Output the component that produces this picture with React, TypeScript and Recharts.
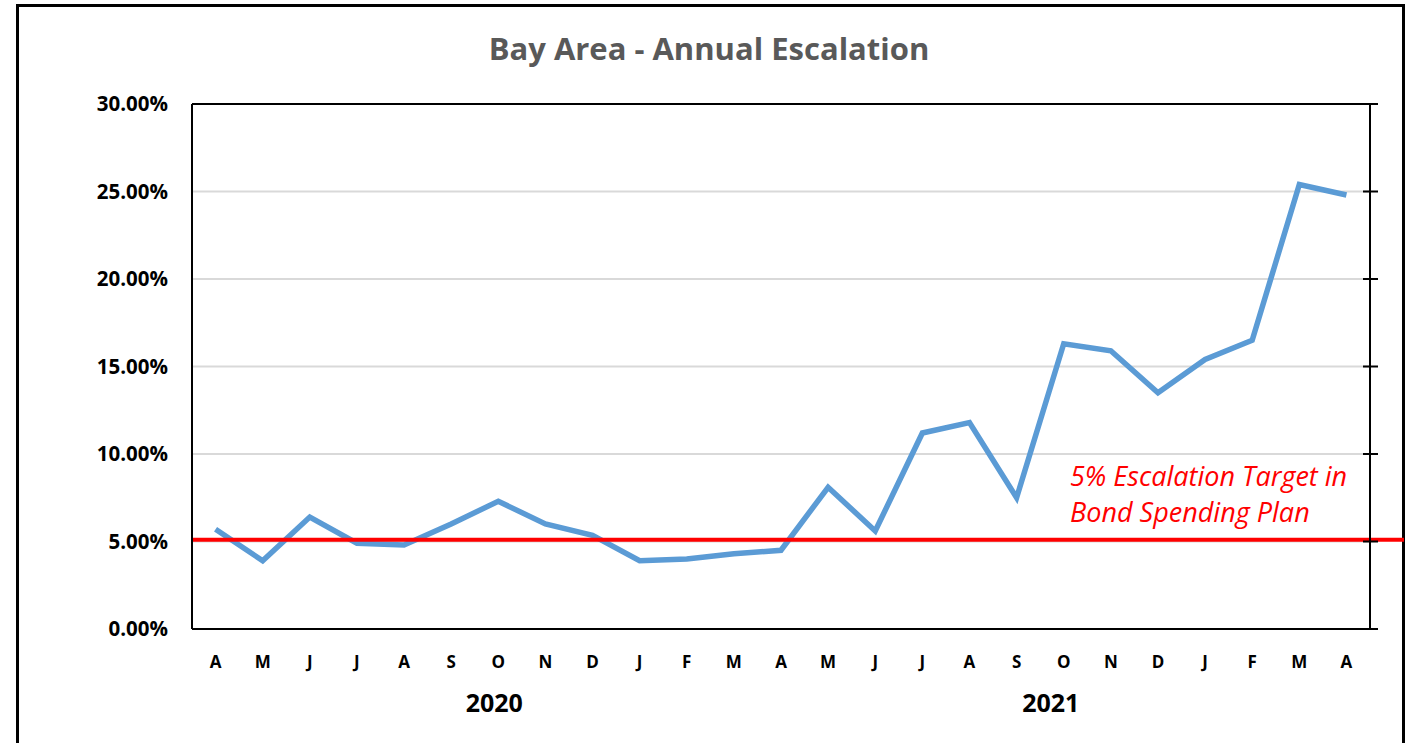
import { LineChart, Line, CartesianGrid, XAxis, YAxis, ReferenceLine } from "recharts";

const monthLetters = ["A", "M", "J", "J", "A", "S", "O", "N", "D", "J", "F", "M", "A", "M", "J", "J", "A", "S", "O", "N", "D", "J", "F", "M", "A"];
const escalation = [5.7, 3.9, 6.4, 4.9, 4.8, 6.0, 7.3, 6.0, 5.35, 3.9, 4.0, 4.3, 4.5, 8.1, 5.6, 11.2, 11.8, 7.5, 16.3, 15.9, 13.5, 15.4, 16.5, 25.4, 24.8];
const yearLabels = ["2020", "2021"];
const yTicks = [0, 5, 10, 15, 20, 25, 30];
const target = 5.1;
const targetText = ["5% Escalation Target in", "Bond Spending Plan"];

const data = monthLetters.map((m, i) => ({ key: `m${i}`, month: m, value: escalation[i] }));

const font = "'Open Sans', 'Noto Sans', sans-serif";
// which month tick each year label hangs under, and a small nudge
const yearAt: Record<number, { label: string; dx: number }> = {
  6: { label: yearLabels[0], dx: -4 },
  18: { label: yearLabels[1], dx: -13 },
};

function MonthTick(props: any) {
  const { x, y, index } = props;
  const year = yearAt[index];
  return (
    <g>
      <text x={x} y={y + 13} textAnchor="middle" fontFamily={font} fontWeight={700} fontSize={17} fill="#000">
        {monthLetters[index]}
      </text>
      {year && (
        <text x={x + year.dx} y={y + 57} textAnchor="middle" fontFamily={font} fontWeight={700} fontSize={25} fill="#000">
          {year.label}
        </text>
      )}
    </g>
  );
}

// inward half of the excel "cross" tick; the outward half is the normal tickLine
function CrossTick(props: any) {
  const { x, y } = props;
  return <line x1={x - 15} x2={x - 8} y1={y} y2={y} stroke="#000" strokeWidth={2} />;
}

function TargetLabel(props: any) {
  const vb = props.viewBox;
  const x = vb.x + vb.width - 300;
  return (
    <text fontFamily={font} fontStyle="italic" fontSize={27} fill="#ff0000">
      <tspan x={x} y={vb.y - 54}>{targetText[0]}</tspan>
      <tspan x={x} y={vb.y - 18}>{targetText[1]}</tspan>
    </text>
  );
}

export default function App() {
  return (
    <div style={{ position: "absolute", left: 0, top: 0, width: 1407, height: 743, overflow: "hidden", background: "#fff" }}>
      <div
        style={{
          position: "absolute",
          left: 16,
          top: 4,
          width: 1389,
          height: 800,
          border: "3px solid #000",
          boxSizing: "border-box",
        }}
      />
      <div
        style={{
          position: "absolute",
          left: 0,
          width: 1418,
          top: 27,
          textAlign: "center",
          fontFamily: font,
          fontWeight: 700,
          fontSize: 31,
          color: "#595959",
        }}
      >
        Bay Area - Annual Escalation
      </div>
      <div style={{ position: "absolute", left: 0, top: 0 }}>
        <LineChart width={1407} height={743} data={data} margin={{ top: 104, right: 0, bottom: 0, left: 112 }}>
          <CartesianGrid vertical={false} stroke="#d9d9d9" strokeWidth={2} yAxisId="left" />
          <XAxis
            dataKey="key"
            scale="band"
            interval={0}
            height={114}
            tickSize={0}
            tickMargin={26}
            tickLine={false}
            axisLine={{ stroke: "#000", strokeWidth: 2 }}
            tick={<MonthTick />}
          />
          <YAxis
            yAxisId="left"
            domain={[0, 30]}
            ticks={yTicks}
            width={80}
            tickSize={0}
            tickMargin={24}
            tickLine={false}
            axisLine={{ stroke: "#000", strokeWidth: 2 }}
            tickFormatter={(v: number) => `${v.toFixed(2)}%`}
            tick={{ fontFamily: font, fontWeight: 700, fontSize: 20.5, fill: "#000" }}
          />
          <YAxis
            yAxisId="right"
            orientation="right"
            domain={[0, 30]}
            ticks={yTicks}
            interval={0}
            width={37}
            tickSize={8}
            tickMargin={0}
            tickLine={{ stroke: "#000", strokeWidth: 2 }}
            axisLine={{ stroke: "#000", strokeWidth: 2 }}
            tick={(p: any) => <CrossTick {...p} />}
          />
          <ReferenceLine yAxisId="left" y={30} stroke="#000" strokeWidth={2} />
          {/* invisible copy so the right axis has a series and draws its ticks */}
          <Line
            yAxisId="right"
            dataKey="value"
            stroke="transparent"
            strokeWidth={0}
            dot={false}
            activeDot={false}
            legendType="none"
            isAnimationActive={false}
          />
          <Line
            yAxisId="left"
            type="linear"
            dataKey="value"
            stroke="#5b9bd5"
            strokeWidth={5.5}
            dot={false}
            activeDot={false}
            isAnimationActive={false}
          />
          <ReferenceLine
            yAxisId="left"
            y={target}
            shape={(p: any) => <line x1={p.x1} y1={p.y1} x2={p.x2 + 34} y2={p.y2} stroke="#ff0000" strokeWidth={4} />}
            label={<TargetLabel />}
          />
        </LineChart>
      </div>
    </div>
  );
}
